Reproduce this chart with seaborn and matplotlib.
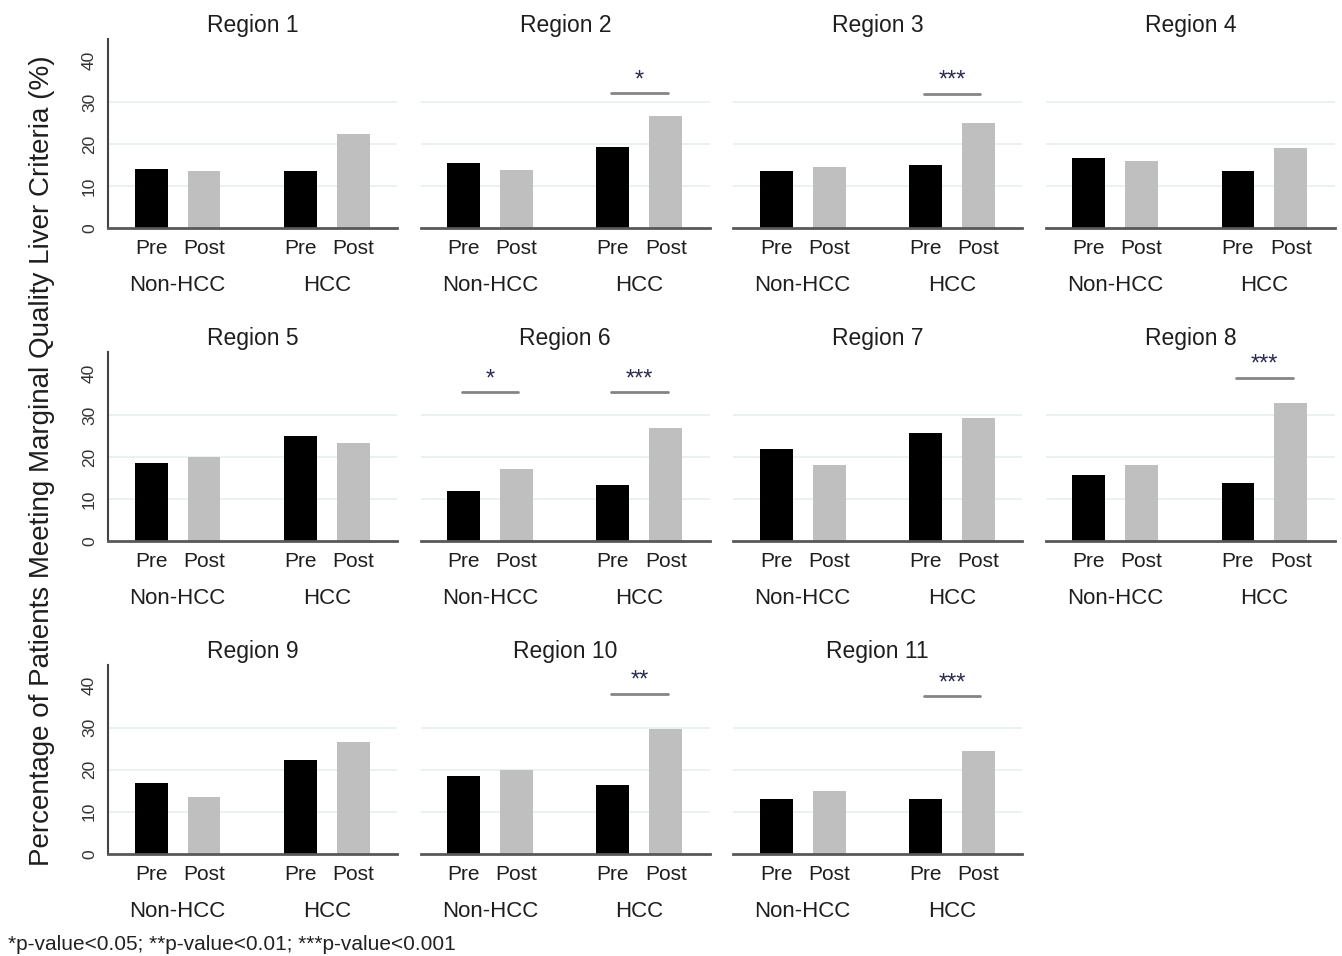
import pandas as pd
import seaborn as sns
import matplotlib.pyplot as plt

regions = ["Region %d" % i for i in range(1, 12)]
groups = ["Non-HCC", "HCC"]
periods = ["Pre", "Post"]

non_hcc_pre = [14.1, 15.6, 13.6, 16.7, 18.5, 11.8, 22.0, 15.6, 16.8, 18.5, 12.9]
non_hcc_post = [13.6, 14.0, 14.6, 16.1, 20.0, 17.2, 18.2, 18.0, 13.5, 19.8, 14.9]
hcc_pre = [13.6, 19.3, 15.1, 13.7, 24.9, 13.3, 25.6, 13.8, 22.4, 16.3, 12.9]
hcc_post = [22.5, 26.7, 25.1, 19.1, 23.4, 26.8, 29.2, 32.9, 26.6, 29.7, 24.5]

# significance brackets: region, group, stars, height of bracket (%)
sig_region = ["Region 2", "Region 3", "Region 6", "Region 6", "Region 8", "Region 10", "Region 11"]
sig_group = ["HCC", "HCC", "Non-HCC", "HCC", "HCC", "HCC", "HCC"]
sig_stars = ["*", "***", "*", "***", "***", "**", "***"]
sig_height = [32.1, 32.0, 35.4, 35.4, 38.8, 38.0, 37.4]

y_ticks = [0, 10, 20, 30, 40]
grid_levels = [10, 20, 30]
footnote = "*p-value<0.05; **p-value<0.01; ***p-value<0.001"
ylabel = "Percentage of Patients Meeting Marginal Quality Liver Criteria (%)"

rows = []
for i, r in enumerate(regions):
    rows.append((r, "Non-HCC", "Pre", non_hcc_pre[i]))
    rows.append((r, "Non-HCC", "Post", non_hcc_post[i]))
    rows.append((r, "HCC", "Pre", hcc_pre[i]))
    rows.append((r, "HCC", "Post", hcc_post[i]))
df = pd.DataFrame(rows, columns=["region", "group", "period", "pct"])

sns.set_style("white")
plt.rcParams["font.family"] = ["Liberation Sans", "DejaVu Sans"]
text_col = "#1e1e1e"

fig, axes = plt.subplots(3, 4, figsize=(13.42, 9.56), dpi=100)
fig.subplots_adjust(left=0.0805, right=0.9948, top=0.959, bottom=0.107,
                    wspace=0.08, hspace=0.653)

for i, r in enumerate(regions):
    ax = axes.flat[i]
    for lvl in grid_levels:
        ax.axhline(lvl, color="#e6efef", lw=1.2, zorder=0)
    sns.barplot(data=df[df.region == r], x="group", y="pct", hue="period",
                order=groups, hue_order=periods, palette=["black", "#bfbfbf"],
                saturation=1, width=0.71, gap=0.38, linewidth=0,
                legend=False, ax=ax, zorder=2)
    ax.set_xlim(-0.466, 1.473)
    ax.set_ylim(0, 45)
    ax.set_xlabel("")
    ax.set_ylabel("")
    ax.set_title(r, fontsize=16.5, color=text_col, pad=5)

    centers = sorted(p.get_x() + p.get_width() / 2 for p in ax.patches)
    ax.set_xticks(centers, ["Pre", "Post", "Pre", "Post"])
    ax.tick_params(axis="x", length=0, pad=8, labelsize=15, labelcolor=text_col)
    for k, g in enumerate(groups):
        ax.annotate(g, xy=(k, 0), xycoords=("data", "axes fraction"),
                    xytext=(0, -41.5), textcoords="offset points",
                    ha="center", va="center", fontsize=16, color=text_col)

    for s in ["top", "right"]:
        ax.spines[s].set_visible(False)
    ax.spines["bottom"].set_color("#585858")
    ax.spines["bottom"].set_linewidth(2)
    if i % 4 == 0:
        ax.spines["left"].set_color("#444444")
        ax.spines["left"].set_linewidth(1.5)
        ax.set_yticks(y_ticks)
        ax.tick_params(axis="y", length=5, width=1.2, color="#444444",
                       labelsize=12.5, labelcolor="#333333", labelrotation=90, pad=3)
        for lab in ax.get_yticklabels():
            lab.set_va("center")
    else:
        ax.spines["left"].set_visible(False)
        ax.set_yticks([])

    for sr, sg, st, sh in zip(sig_region, sig_group, sig_stars, sig_height):
        if sr != r:
            continue
        gx = groups.index(sg)
        ax.plot([gx - 0.19, gx + 0.19], [sh, sh], color="#858585", lw=2,
                clip_on=False)
        ax.annotate(st, xy=(gx, sh), xytext=(0, 5), textcoords="offset points",
                    ha="center", va="baseline", fontsize=17, color="#2a2a50",
                    annotation_clip=False)

axes.flat[11].axis("off")

fig.text(0.0313, 0.518, ylabel, rotation=90, ha="center", va="center",
         fontsize=20, color=text_col)
fig.text(0.006, 1 - 944 / 956, footnote, ha="left", va="center",
         fontsize=15, color="#222222")

fig.savefig("out.png", dpi=100)
